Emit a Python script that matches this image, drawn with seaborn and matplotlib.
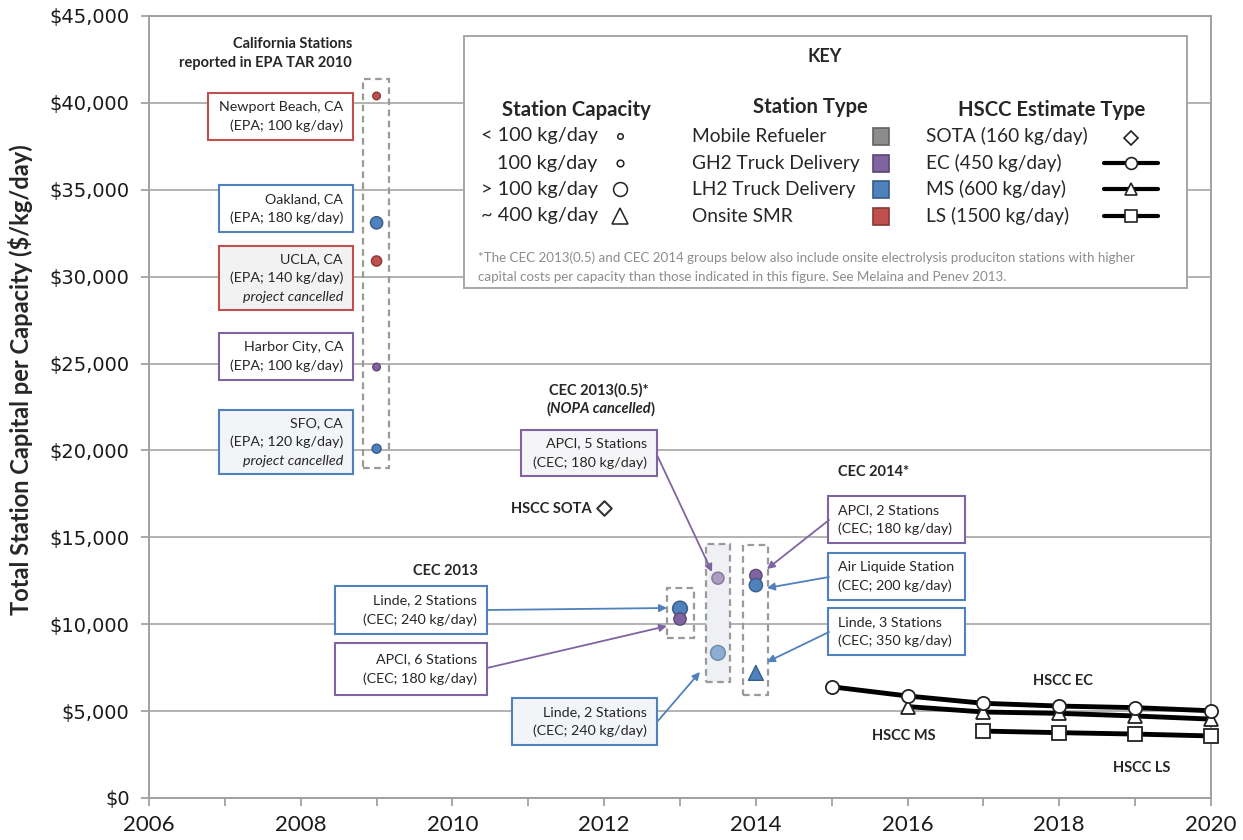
import numpy as np
import pandas as pd
import seaborn as sns
import matplotlib
matplotlib.use("Agg")
import matplotlib.pyplot as plt
import matplotlib.transforms as mtransforms
from matplotlib.patches import Rectangle, FancyArrowPatch
from matplotlib.lines import Line2D

# ---------------- data ----------------
epa_sites = ["Newport Beach, CA", "Oakland, CA", "UCLA, CA", "Harbor City, CA", "SFO, CA"]
epa_year = [2009, 2009, 2009, 2009, 2009]
epa_cost = [40400, 33100, 30900, 24800, 20100]
epa_capacity = [100, 180, 140, 100, 120]
epa_type = ["Onsite SMR", "LH2 Truck Delivery", "Onsite SMR", "GH2 Truck Delivery", "LH2 Truck Delivery"]
epa_note = ["", "", "project cancelled", "", "project cancelled"]

cec_names = ["Linde, 2 Stations", "APCI, 6 Stations", "APCI, 5 Stations", "Linde, 2 Stations",
             "APCI, 2 Stations", "Air Liquide Station", "Linde, 3 Stations"]
cec_group = ["CEC 2013", "CEC 2013", "CEC 2013(0.5)", "CEC 2013(0.5)", "CEC 2014", "CEC 2014", "CEC 2014"]
cec_year = [2013, 2013, 2013.5, 2013.5, 2014, 2014, 2014]
cec_cost = [10900, 10300, 12650, 8350, 12800, 12250, 7200]
cec_capacity = [240, 180, 180, 240, 180, 200, 350]
cec_type = ["LH2 Truck Delivery", "GH2 Truck Delivery", "GH2 Truck Delivery", "LH2 Truck Delivery",
            "GH2 Truck Delivery", "LH2 Truck Delivery", "LH2 Truck Delivery"]
cec_shape = ["circle", "circle", "circle", "circle", "circle", "circle", "triangle"]

sota_year = [2012]
sota_cost = [16700]

ec_years = [2015, 2016, 2017, 2018, 2019, 2020]
ec_cost = [6400, 5870, 5450, 5290, 5200, 5020]
ms_years = [2016, 2017, 2018, 2019, 2020]
ms_cost = [5260, 4950, 4870, 4720, 4540]
ls_years = [2017, 2018, 2019, 2020]
ls_cost = [3850, 3760, 3680, 3570]

y_ticks = [0, 5000, 10000, 15000, 20000, 25000, 30000, 35000, 40000, 45000]
x_major = [2006, 2008, 2010, 2012, 2014, 2016, 2018, 2020]

type_colors = {"Mobile Refueler": "#8c8c8c", "GH2 Truck Delivery": "#8064a2",
               "LH2 Truck Delivery": "#4f81bd", "Onsite SMR": "#c0504d"}

# ---------------- setup ----------------
sns.set_theme(style="white")
plt.rcParams["font.family"] = ["Lato", "DejaVu Sans"]

W, H = 1243, 840
fig = plt.figure(figsize=(W / 100, H / 100), dpi=100)
ax = fig.add_axes([149 / W, 1 - 798 / H, (1211 - 149) / W, (798 - 16) / H])
pix = mtransforms.Affine2D().scale(1, -1).translate(0, H)  # pixel (top-left origin) -> display

ax.set_xlim(2006, 2020)
ax.set_ylim(0, 45000)
ax.set_yticks(y_ticks)
ax.set_yticklabels([f"${v:,.0f}" for v in y_ticks], fontfamily="DejaVu Sans", fontsize=14,
                   color="#1a1a1a")
ax.set_xticks(x_major)
ax.set_xticklabels([str(v) for v in x_major], fontsize=16, color="#1a1a1a")
ax.set_xticks(list(range(2007, 2020, 2)), minor=True)
ax.tick_params(axis="both", which="both", direction="out", color="#999999", length=6, width=1.2,
               bottom=True, left=True)
ax.tick_params(axis="x", which="major", pad=6)
ax.tick_params(axis="y", pad=8)
ax.grid(axis="y", color="#a6a6a6", lw=1.2)
ax.set_axisbelow(True)
for s in ax.spines.values():
    s.set_color("#a0a0a0")
    s.set_linewidth(1.4)

fig.text(21 / W, 1 - 380 / H, "Total Station Capital per Capacity ($/kg/day)", rotation=90,
         ha="center", va="center", fontsize=17, fontweight="bold",
         family=["Liberation Sans Narrow", "Lato", "DejaVu Sans"])

# ---------------- group boxes (data coords) ----------------
groups = [(2008.82, 2009.16, 19000, 41350, "none"),
          (2012.83, 2013.18, 9200, 12080, "none"),
          (2013.34, 2013.66, 6680, 14600, "#eef0f4"),
          (2013.83, 2014.16, 5930, 14560, "none")]
for x0, x1, y0, y1, fc in groups:
    ax.add_patch(Rectangle((x0, y0), x1 - x0, y1 - y0, facecolor=fc, edgecolor="#9a9a9a",
                           lw=1.6, ls=(0, (3, 2)), zorder=2))

# ---------------- station points ----------------
cap_norm = plt.Normalize(100, 240, clip=True)


def darken(coll, f=0.72):
    fc = coll.get_facecolors().copy()
    ec = fc.copy()
    ec[:, :3] *= f
    ec[:, 3] = 1
    coll.set_edgecolors(ec)


epa_df = pd.DataFrame(dict(year=epa_year, cost=epa_cost, capacity=epa_capacity, stype=epa_type))
sns.scatterplot(data=epa_df, x="year", y="cost", hue="stype", palette=type_colors,
                size="capacity", sizes=(30, 115), size_norm=cap_norm, legend=False,
                ax=ax, zorder=5, linewidth=1)
darken(ax.collections[-1])

cec_df = pd.DataFrame(dict(year=cec_year, cost=cec_cost, capacity=cec_capacity, stype=cec_type,
                           shape=cec_shape, group=cec_group))
for grp, alpha in [("CEC 2013", 1.0), ("CEC 2013(0.5)", 0.6), ("CEC 2014", 1.0)]:
    sub = cec_df[cec_df.group == grp]
    sns.scatterplot(data=sub, x="year", y="cost", hue="stype", palette=type_colors,
                    size="capacity", sizes=(30, 115), size_norm=cap_norm,
                    style="shape", markers={"circle": "o", "triangle": "^"},
                    legend=False, ax=ax, zorder=5, linewidth=1, alpha=alpha)
    darken(ax.collections[-1])

sns.scatterplot(x=sota_year, y=sota_cost, marker="D", s=55, color="white",
                edgecolor="#333333", linewidth=1.5, ax=ax, zorder=5, legend=False)

# ---------------- HSCC lines ----------------
for yrs, vals, mk in [(ls_years, ls_cost, "s"), (ms_years, ms_cost, "^"), (ec_years, ec_cost, "o")]:
    sns.lineplot(x=yrs, y=vals, color="black", lw=3.5, marker=mk, markersize=9.5,
                 markerfacecolor="white", markeredgecolor="#222222", markeredgewidth=1.3,
                 ax=ax, zorder=6, legend=False, clip_on=False)

ax.set_xlim(2006, 2020)
ax.set_ylim(0, 45000)
ax.set_xlabel("")
ax.set_ylabel("")


# ---------------- annotation boxes (pixel layout) ----------------
def pbox(x0, y0, x1, y1, ec, fc="white", lw=1.5):
    fig.add_artist(Rectangle((x0, y0), x1 - x0, y1 - y0, transform=pix, facecolor=fc,
                             edgecolor=ec, lw=lw, zorder=3))


def ptext(x, y, s, ha="right", size=10.3, **kw):
    fig.text(x, y, s, transform=pix, ha=ha, va="center", fontsize=size, zorder=4, **kw)


box_specs = [
    (208, 93, 353, 140, type_colors["Onsite SMR"], "white",
     [epa_sites[0], f"(EPA; {epa_capacity[0]} kg/day)"], epa_note[0]),
    (219, 185, 353, 232, type_colors["LH2 Truck Delivery"], "white",
     [epa_sites[1], f"(EPA; {epa_capacity[1]} kg/day)"], epa_note[1]),
    (219, 246, 353, 310, type_colors["Onsite SMR"], "#f2f2f2",
     [epa_sites[2], f"(EPA; {epa_capacity[2]} kg/day)"], epa_note[2]),
    (219, 333, 353, 380, type_colors["GH2 Truck Delivery"], "white",
     [epa_sites[3], f"(EPA; {epa_capacity[3]} kg/day)"], epa_note[3]),
    (219, 410, 353, 474, type_colors["LH2 Truck Delivery"], "#f2f4f7",
     [epa_sites[4], f"(EPA; {epa_capacity[4]} kg/day)"], epa_note[4]),
    (335, 586, 487, 634, type_colors["LH2 Truck Delivery"], "white",
     [cec_names[0], f"(CEC; {cec_capacity[0]} kg/day)"], ""),
    (335, 643, 487, 695, type_colors["GH2 Truck Delivery"], "white",
     [cec_names[1], f"(CEC; {cec_capacity[1]} kg/day)"], ""),
    (521, 430, 657, 476, type_colors["GH2 Truck Delivery"], "#f5f5f8",
     [cec_names[2], f"(CEC; {cec_capacity[2]} kg/day)"], ""),
    (512, 698, 657, 745, type_colors["LH2 Truck Delivery"], "#f2f4f7",
     [cec_names[3], f"(CEC; {cec_capacity[3]} kg/day)"], ""),
    (828, 496, 965, 543, type_colors["GH2 Truck Delivery"], "white",
     [cec_names[4], f"(CEC; {cec_capacity[4]} kg/day)"], ""),
    (828, 553, 965, 600, type_colors["LH2 Truck Delivery"], "white",
     [cec_names[5], f"(CEC; {cec_capacity[5]} kg/day)"], ""),
    (828, 608, 965, 655, type_colors["LH2 Truck Delivery"], "white",
     [cec_names[6], f"(CEC; {cec_capacity[6]} kg/day)"], ""),
]
for x0, y0, x1, y1, ec, fc, lines, note in box_specs:
    pbox(x0, y0, x1, y1, ec, fc)
    allines = lines + ([note] if note else [])
    n = len(allines)
    cy = (y0 + y1) / 2
    step = 19
    for i, ln in enumerate(allines):
        yy = cy + (i - (n - 1) / 2) * step
        if x0 >= 828:
            ptext(x0 + 10, yy, ln, ha="left")
        else:
            ptext(x1 - 10, yy, ln, ha="right",
                  style="italic" if (note and ln == note) else "normal")

# arrows
arrows = [((487, 610), (667, 608), type_colors["LH2 Truck Delivery"]),
          ((487, 668), (667, 626), type_colors["GH2 Truck Delivery"]),
          ((657, 722), (700, 672), type_colors["LH2 Truck Delivery"]),
          ((657, 455), (712, 572), type_colors["GH2 Truck Delivery"]),
          ((829, 520), (767, 569), type_colors["GH2 Truck Delivery"]),
          ((829, 577), (767, 588), type_colors["LH2 Truck Delivery"]),
          ((829, 632), (767, 662), type_colors["LH2 Truck Delivery"])]
for a, b, c in arrows:
    fig.add_artist(FancyArrowPatch(a, b, transform=pix, arrowstyle="-|>", mutation_scale=11,
                                   lw=1.3, color=c, shrinkA=0, shrinkB=0, zorder=4))

# bold group labels
ptext(352, 44, "California Stations", size=10.5, fontweight="bold")
ptext(352, 63, "reported in EPA TAR 2010", size=10.5, fontweight="bold")
ptext(649, 390, "CEC 2013(0.5)*", size=10.5, fontweight="bold")
renderer = fig.canvas.get_renderer()
t3 = fig.text(655, 409, ")", transform=pix, ha="right", va="center", fontsize=10.5, fontweight="bold")
w3 = t3.get_window_extent(renderer).width
t2 = fig.text(655 - w3, 409, "NOPA cancelled", transform=pix, ha="right", va="center",
              fontsize=10.5, fontweight="bold", style="italic")
w2 = t2.get_window_extent(renderer).width
fig.text(655 - w3 - w2, 409, "(", transform=pix, ha="right", va="center", fontsize=10.5,
         fontweight="bold")
ptext(511, 509, "HSCC SOTA", ha="left", size=10.5, fontweight="bold")
ptext(413, 571, "CEC 2013", ha="left", size=10.5, fontweight="bold")
ptext(838, 472, "CEC 2014*", ha="left", size=10.5, fontweight="bold")
ptext(1033, 681, "HSCC EC", ha="left", size=10.5, fontweight="bold")
ptext(872, 736, "HSCC MS", ha="left", size=10.5, fontweight="bold")
ptext(1113, 768, "HSCC LS", ha="left", size=10.5, fontweight="bold")

# ---------------- KEY ----------------
pbox(464, 36, 1187, 288, "#a6a6a6", "white", lw=1.4)
ptext(825, 57, "KEY", ha="center", size=13, fontweight="bold")
ptext(576, 110, "Station Capacity", ha="center", size=14.6, fontweight="bold")
ptext(810, 107, "Station Type", ha="center", size=14.6, fontweight="bold")
ptext(1052, 110, "HSCC Estimate Type", ha="center", size=14.6, fontweight="bold")

rows = [136, 163, 189, 216]
cap_labels = ["< 100 kg/day", "100 kg/day", "> 100 kg/day", "~ 400 kg/day"]
cap_x = [481, 497, 481, 481]
cap_mk = [("o", 4), ("o", 4.8), ("o", 10), ("^", 11.5)]
for y, lab, x, (mk, ms) in zip(rows, cap_labels, cap_x, cap_mk):
    ptext(x, y, lab, ha="left", size=14.3)
    fig.add_artist(Line2D([620], [y], transform=pix, marker=mk, markersize=ms,
                          markerfacecolor="white", markeredgecolor="#222222", markeredgewidth=1.1,
                          ls="none", zorder=4))

type_labels = ["Mobile Refueler", "GH2 Truck Delivery", "LH2 Truck Delivery", "Onsite SMR"]
for y, lab in zip(rows, type_labels):
    ptext(692, y, lab, ha="left", size=13.8)
    col = type_colors[lab]
    rgb = np.array(matplotlib.colors.to_rgb(col)) * 0.7
    fig.add_artist(Rectangle((873, y - 8), 16, 17, transform=pix, facecolor=col,
                             edgecolor=rgb, lw=1.2, zorder=4))

hscc_labels = ["SOTA (160 kg/day)", "EC (450 kg/day)", "MS (600 kg/day)", "LS (1500 kg/day)"]
hscc_mk = ["D", "o", "^", "s"]
for i, (y, lab, mk) in enumerate(zip(rows, hscc_labels, hscc_mk)):
    ptext(926, y, lab, ha="left", size=13.8)
    if i == 0:
        fig.add_artist(Line2D([1131], [y + 2], transform=pix, marker="D", markersize=7,
                              markerfacecolor="white", markeredgecolor="#222222",
                              markeredgewidth=1.2, ls="none", zorder=4))
    else:
        fig.add_artist(Line2D([1104, 1158], [y, y], transform=pix, color="black", lw=3,
                              zorder=4))
        fig.add_artist(Line2D([1131], [y], transform=pix, marker=mk, markersize=8.5,
                              markerfacecolor="white", markeredgecolor="#222222",
                              markeredgewidth=1.2, ls="none", zorder=5))

ptext(478, 258, "*The CEC 2013(0.5) and CEC 2014 groups below also include onsite electrolysis "
      "produciton stations with higher", ha="left", size=9.6, color="#8c8c8c")
ptext(478, 277, "capital costs per capacity than those indicated in this figure. See Melaina and "
      "Penev 2013.", ha="left", size=9.6, color="#8c8c8c")

fig.savefig("out.png", dpi=100)
